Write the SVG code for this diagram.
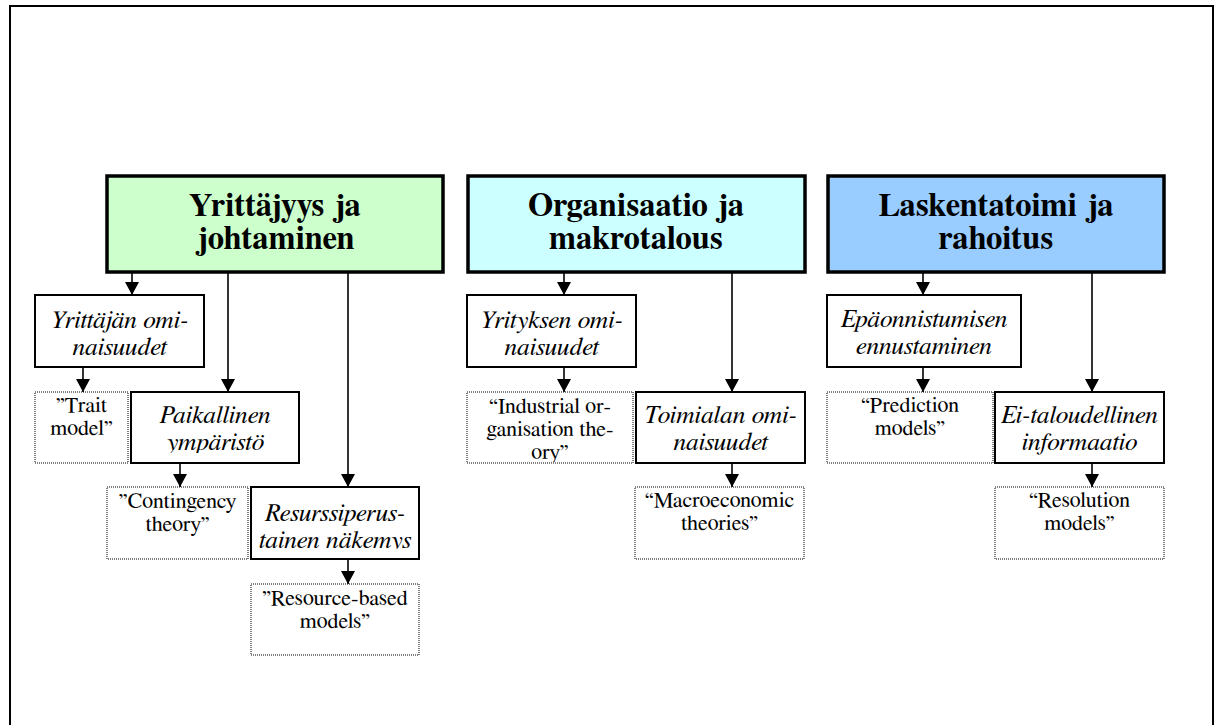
<svg xmlns="http://www.w3.org/2000/svg" width="1221" height="725" viewBox="0 0 1221 725">
  <style>
    .frame { fill: none; stroke: #000; stroke-width: 2; }
    .head { stroke: #000; stroke-width: 3.5; }
    .box { fill: #fff; stroke: #000; stroke-width: 2; }
    .dot { fill: #fff; stroke: #000; stroke-width: 1; stroke-dasharray: 1 1; }
    .link { fill: none; stroke: #000; stroke-width: 1.6; marker-end: url(#arrow); }
    text { font-family: "FreeSerif", "Nimbus Roman", "Tinos", "DejaVu Serif", "Liberation Serif", serif; text-anchor: middle; fill: #000; }
    .ht { font-weight: bold; font-size: 32.5px; }
    .it { font-style: italic; font-size: 25.5px; }
    .rt { font-size: 22px; }
  </style>
  <defs>
    <marker id="arrow" viewBox="0 0 13 14" refX="13" refY="7" markerWidth="13" markerHeight="14" markerUnits="userSpaceOnUse" orient="auto">
      <path d="M0,0 L13,7 L0,14 Z" fill="#000"/>
    </marker>
    <clipPath id="clipPaik"><rect x="131" y="392" width="168" height="61"/></clipPath>
    <clipPath id="clipResu"><rect x="251" y="487" width="168" height="62"/></clipPath>
    <clipPath id="clipInd"><rect x="467" y="392" width="166" height="70"/></clipPath>
  </defs>

  <rect class="frame" x="10" y="6" width="1203" height="800"/>

  <!-- connectors -->
  <g id="connectors">
    <line class="link" x1="132" y1="273" x2="132" y2="295"/>
    <line class="link" x1="228" y1="273" x2="228" y2="392"/>
    <line class="link" x1="348" y1="273" x2="348" y2="487"/>
    <line class="link" x1="83" y1="367" x2="83" y2="392"/>
    <line class="link" x1="180" y1="463" x2="180" y2="487"/>
    <line class="link" x1="348" y1="559" x2="348" y2="584"/>

    <line class="link" x1="564" y1="273" x2="564" y2="295"/>
    <line class="link" x1="732" y1="273" x2="732" y2="392"/>
    <line class="link" x1="564" y1="367" x2="564" y2="392"/>
    <line class="link" x1="732" y1="463" x2="732" y2="487"/>

    <line class="link" x1="923" y1="273" x2="923" y2="295"/>
    <line class="link" x1="1092" y1="273" x2="1092" y2="392"/>
    <line class="link" x1="923" y1="367" x2="923" y2="392"/>
    <line class="link" x1="1092" y1="463" x2="1092" y2="487"/>
  </g>

  <!-- column 1: Yrittäjyys ja johtaminen -->
  <g id="yrittajyys">
    <rect class="head" x="107" y="176" width="336" height="96" fill="#CCFFCC"/>
    <text class="ht" x="275" y="216">Yrittäjyys ja</text>
    <text class="ht" x="275" y="249">johtaminen</text>
  </g>
  <g id="yrittajan-ominaisuudet">
    <rect class="box" x="35" y="295" width="169" height="72"/>
    <text class="it" x="119.5" y="328">Yrittäjän omi-</text>
    <text class="it" x="119.5" y="355">naisuudet</text>
  </g>
  <g id="trait-model">
    <rect class="dot" x="35" y="392" width="93" height="71"/>
    <text class="rt" x="81.5" y="412">”Trait</text>
    <text class="rt" x="81.5" y="435">model”</text>
  </g>
  <g id="paikallinen-ymparisto">
    <rect class="box" x="131" y="392" width="168" height="71"/>
    <g clip-path="url(#clipPaik)">
      <text class="it" x="215" y="423">Paikallinen</text>
      <text class="it" x="215" y="450">ympäristö</text>
    </g>
  </g>
  <g id="contingency-theory">
    <rect class="dot" x="107" y="487" width="141" height="72"/>
    <text class="rt" x="177.5" y="508">”Contingency</text>
    <text class="rt" x="177.5" y="531">theory”</text>
  </g>
  <g id="resurssiperustainen">
    <rect class="box" x="251" y="487" width="168" height="72"/>
    <g clip-path="url(#clipResu)">
      <text class="it" x="335" y="521">Resurssiperus-</text>
      <text class="it" x="335" y="548">tainen näkemys</text>
    </g>
  </g>
  <g id="resource-based">
    <rect class="dot" x="251" y="584" width="168" height="71"/>
    <text class="rt" x="335" y="605">”Resource-based</text>
    <text class="rt" x="335" y="628">models”</text>
  </g>

  <!-- column 2: Organisaatio ja makrotalous -->
  <g id="organisaatio">
    <rect class="head" x="468" y="176" width="337" height="96" fill="#CCFFFF"/>
    <text class="ht" x="636" y="216">Organisaatio ja</text>
    <text class="ht" x="636" y="249">makrotalous</text>
  </g>
  <g id="yrityksen-ominaisuudet">
    <rect class="box" x="467" y="295" width="169" height="72"/>
    <text class="it" x="551.5" y="328">Yrityksen omi-</text>
    <text class="it" x="551.5" y="355">naisuudet</text>
  </g>
  <g id="industrial-organisation">
    <rect class="dot" x="467" y="392" width="166" height="71"/>
    <g clip-path="url(#clipInd)">
      <text class="rt" x="550" y="412.5">“Industrial or-</text>
      <text class="rt" x="550" y="435.5">ganisation the-</text>
      <text class="rt" x="550" y="458.5">ory”</text>
    </g>
  </g>
  <g id="toimialan-ominaisuudet">
    <rect class="box" x="636" y="392" width="169" height="71"/>
    <text class="it" x="720.5" y="423">Toimialan omi-</text>
    <text class="it" x="720.5" y="450">naisuudet</text>
  </g>
  <g id="macroeconomic">
    <rect class="dot" x="635" y="487" width="169" height="72"/>
    <text class="rt" x="719.5" y="507">“Macroeconomic</text>
    <text class="rt" x="719.5" y="530">theories”</text>
  </g>

  <!-- column 3: Laskentatoimi ja rahoitus -->
  <g id="laskentatoimi">
    <rect class="head" x="828" y="176" width="336" height="96" fill="#99CCFF"/>
    <text class="ht" x="996" y="216">Laskentatoimi ja</text>
    <text class="ht" x="996" y="249">rahoitus</text>
  </g>
  <g id="epaonnistumisen-ennustaminen">
    <rect class="box" x="827" y="295" width="194" height="72"/>
    <text class="it" x="924" y="327">Epäonnistumisen</text>
    <text class="it" x="924" y="354">ennustaminen</text>
  </g>
  <g id="prediction-models">
    <rect class="dot" x="827" y="392" width="166" height="71"/>
    <text class="rt" x="910" y="412">“Prediction</text>
    <text class="rt" x="910" y="435">models”</text>
  </g>
  <g id="ei-taloudellinen">
    <rect class="box" x="995" y="392" width="169" height="71"/>
    <text class="it" x="1079.5" y="423">Ei-taloudellinen</text>
    <text class="it" x="1079.5" y="450">informaatio</text>
  </g>
  <g id="resolution-models">
    <rect class="dot" x="995" y="487" width="169" height="72"/>
    <text class="rt" x="1079.5" y="507">“Resolution</text>
    <text class="rt" x="1079.5" y="530">models”</text>
  </g>
</svg>
